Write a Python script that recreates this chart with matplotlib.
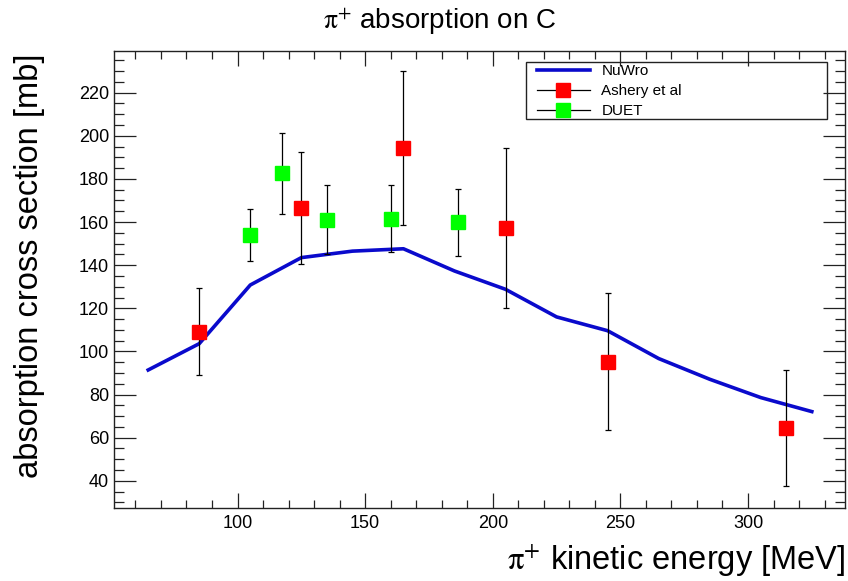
import numpy as np
import matplotlib
matplotlib.use('Agg')
import matplotlib.pyplot as plt
from matplotlib.lines import Line2D
from matplotlib.patches import Rectangle
from matplotlib.ticker import MultipleLocator

plt.rcParams['font.family'] = ['Liberation Sans', 'DejaVu Sans']
plt.rcParams['mathtext.fontset'] = 'stix'

# NuWro prediction
nuwro_e = [65, 85, 105, 125, 145, 165, 185, 205, 225, 245, 265, 285, 305, 325]
nuwro_xs = [91.4, 103.6, 130.8, 143.5, 146.5, 147.6, 137.3, 128.8, 116.0, 109.6, 96.7, 87.1, 78.6, 72.1]

# Ashery et al data
ashery_e = [85, 125, 165, 205, 245, 315]
ashery_xs = [109.2, 166.5, 194.3, 157.3, 95.3, 64.4]
ashery_err = [20.0, 26.0, 35.8, 37.0, 31.8, 27.0]

# DUET data
duet_e = [105, 117.5, 135, 160, 186.5]
duet_xs = [154.0, 182.5, 161.0, 161.6, 159.8]
duet_err = [12.0, 19.0, 16.0, 15.6, 15.4]

fig = plt.figure(figsize=(8.48, 5.81), dpi=100)
ax = fig.add_axes([114 / 848, 73 / 581, 731 / 848, 457 / 581])

ax.plot(nuwro_e, nuwro_xs, color='#0a0acc', lw=2.6, solid_joinstyle='round', zorder=2)
ax.errorbar(ashery_e, ashery_xs, yerr=ashery_err, fmt='s', color='red', ms=10.5,
            ecolor='black', elinewidth=0.9, capsize=2.2, capthick=0.9, zorder=3)
ax.errorbar(duet_e, duet_xs, yerr=duet_err, fmt='s', color='#00ff00', ms=10.5,
            ecolor='black', elinewidth=0.9, capsize=2.2, capthick=0.9, zorder=3)

ax.set_xlim(51.6, 338)
ax.set_ylim(27.4, 239.3)

ax.xaxis.set_major_locator(MultipleLocator(50))
ax.xaxis.set_minor_locator(MultipleLocator(10))
ax.yaxis.set_major_locator(MultipleLocator(20))
ax.yaxis.set_minor_locator(MultipleLocator(5))
ax.set_yticks(np.arange(40, 221, 20))

ax.tick_params(axis='both', which='both', direction='in', top=True, right=True,
               colors='#222222', width=0.9, labelsize=13, labelcolor='black')
ax.tick_params(axis='x', which='major', length=10.8, pad=5)
ax.tick_params(axis='x', which='minor', length=5.5)
ax.tick_params(axis='y', which='major', length=15.5, pad=3.5)
ax.tick_params(axis='y', which='minor', length=7.2)
for s in ax.spines.values():
    s.set_color('#222222')
    s.set_linewidth(1.0)

# legend box
ax.add_patch(Rectangle((0.5636, 0.8505), 0.4118, 0.1261, transform=ax.transAxes,
                       fill=False, edgecolor='#222222', lw=1.0, zorder=5))
handles = [
    Line2D([], [], color='#0a0acc', lw=2.6),
    Line2D([], [], color='black', lw=0.9, marker='s', mfc='red', mec='red', ms=10.5),
    Line2D([], [], color='black', lw=0.9, marker='s', mfc='#00ff00', mec='#00ff00', ms=10.5),
]
ax.legend(handles, ['NuWro', 'Ashery et al', 'DUET'], loc='upper left',
          bbox_to_anchor=(0.5765, 0.974), frameon=False, fontsize=11,
          handlelength=3.45, handletextpad=0.76, labelspacing=0.38, borderpad=0.1,
          borderaxespad=0, numpoints=1)

fig.text(440 / 848, 1 - 22 / 581, r'$\mathrm{\pi}^{+}$ absorption on C', ha='center',
         va='center', fontsize=20)
fig.text(30 / 848, 1 - 53 / 581, 'absorption cross section [mb]', rotation=90,
         ha='center', va='top', fontsize=23.5)
fig.text(845 / 848, 1 - 570 / 581, r'$\mathrm{\pi}^{+}$ kinetic energy [MeV]', ha='right',
         va='baseline', fontsize=23.5)

fig.savefig('out.png', dpi=100)
